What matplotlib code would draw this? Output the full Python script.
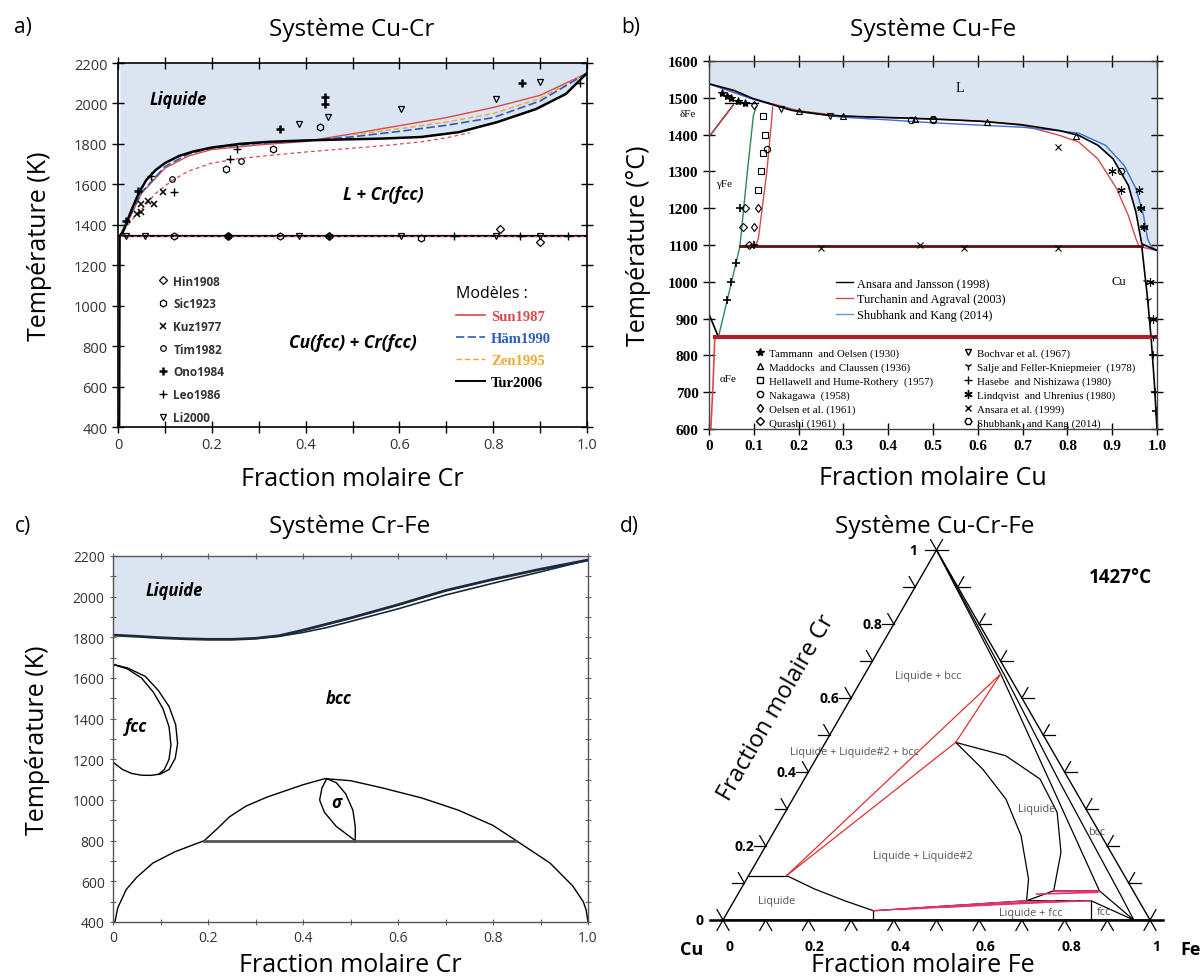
import numpy as np
import matplotlib
matplotlib.use("Agg")
import matplotlib.pyplot as plt
from matplotlib.lines import Line2D

plt.rcParams['font.family'] = ['Open Sans', 'DejaVu Sans']
SERIF = ['Liberation Serif', 'DejaVu Serif']
BLEU = '#dbe5f1'
ROUGE = '#d84a4a'

# ---------------- a) Cu-Cr  (x = fraction Cr, T en K)
a_tur_x = [0.004, 0.01, 0.02, 0.03, 0.045, 0.06, 0.08, 0.1, 0.13, 0.16, 0.2, 0.26,
           0.32, 0.40, 0.48, 0.56, 0.646, 0.727, 0.809, 0.891, 0.955, 1.0]
a_tur_T = [1345, 1362, 1420, 1480, 1560, 1620, 1670, 1705, 1740, 1762, 1782, 1800,
           1810, 1817, 1822, 1826, 1834, 1858, 1908, 1972, 2047, 2150]
a_sun_x = [0.004, 0.02, 0.05, 0.1, 0.15, 0.2, 0.3, 0.4, 0.5, 0.6, 0.7, 0.8, 0.9, 1.0]
a_sun_T = [1345, 1410, 1555, 1680, 1740, 1772, 1795, 1812, 1850, 1890, 1930, 1980, 2040, 2150]
a_ham_x = [0.004, 0.02, 0.05, 0.1, 0.15, 0.2, 0.3, 0.4, 0.5, 0.6, 0.7, 0.8, 0.9, 1.0]
a_ham_T = [1345, 1415, 1560, 1688, 1750, 1780, 1803, 1815, 1835, 1862, 1892, 1930, 2012, 2150]
a_zen_x = [0.5, 0.6, 0.7, 0.8, 0.9, 1.0]
a_zen_T = [1845, 1875, 1908, 1950, 2025, 2150]
a_bas_x = [0.004, 0.018, 0.04, 0.058, 0.08, 0.116, 0.15, 0.2, 0.26, 0.32, 0.4, 0.48, 0.56,
           0.646, 0.7, 0.75]
a_bas_T = [1345, 1390, 1455, 1494, 1555, 1620, 1665, 1705, 1728, 1742, 1760, 1775, 1790,
           1810, 1830, 1855]
a_eut_x = [0.004, 1.0]
a_eut_T = [1345, 1345]
a_solv_x = [0.003, 0.004]
a_solv_T = [400, 1345]

hin_x = [0.815, 0.90]
hin_T = [1379, 1313]
sic_x = [0.23, 0.33, 0.43, 0.12, 0.234, 0.345, 0.45, 0.645]
sic_T = [1676, 1775, 1882, 1345, 1345, 1345, 1345, 1335]
kuz_x = [0.049, 0.064, 0.076, 0.096, 0.04, 0.05]
kuz_T = [1503, 1520, 1503, 1561, 1453, 1462]
tim_x = [0.262, 0.116, 0.234]
tim_T = [1717, 1626, 1345]
ono_x = [0.442, 0.442, 0.345, 0.862, 0.042, 0.018, 0.45, 0.235]
ono_T = [1997, 2030, 1874, 2103, 1569, 1418, 1345, 1345]
leo_x = [0.985, 0.12, 0.238, 0.254, 0.716, 0.858, 0.96, 0.07]
leo_T = [2103, 1561, 1725, 1775, 1345, 1345, 1345, 1640]
li_x = [0.385, 0.447, 0.604, 0.805, 0.899, 0.017, 0.058, 0.385, 0.604, 0.805, 0.899]
li_T = [1898, 1932, 1973, 2022, 2104, 1345, 1345, 1345, 1345, 1345, 1345]

# ---------------- b) Cu-Fe  (x = fraction Cu, T en °C)
b_liq_x = [0, 0.056, 0.098, 0.184, 0.269, 0.355, 0.44, 0.526, 0.611, 0.697, 0.782, 0.825,
           0.868, 0.902, 0.936, 0.953, 0.966, 1.0]
b_liq_T = [1538, 1520, 1498, 1466, 1452, 1448, 1445, 1441, 1436, 1427, 1411, 1398,
           1371, 1334, 1262, 1189, 1103, 1085]
b_blue_x = [0, 0.1, 0.2, 0.3, 0.4, 0.5, 0.6, 0.7, 0.782, 0.825, 0.885, 0.927, 0.953, 0.97,
            0.979, 0.987, 1.0]
b_blue_T = [1538, 1495, 1462, 1447, 1440, 1432, 1426, 1420, 1410, 1404, 1371, 1316, 1253,
            1180, 1117, 1096, 1085]
b_red_x = [0, 0.1, 0.2, 0.3, 0.4, 0.5, 0.6, 0.7, 0.782, 0.825, 0.868, 0.91, 0.936, 0.953,
           0.96, 1.0]
b_red_T = [1538, 1497, 1465, 1450, 1446, 1442, 1437, 1425, 1398, 1380, 1334, 1253, 1180,
           1117, 1096, 1085]
b_g1_x = [0.021, 0.043, 0.069, 0.084, 0.099, 0.105]
b_g1_T = [850, 962, 1096, 1280, 1451, 1475]
b_g2_x = [0.069, 0.103, 0.11, 0.129, 0.14, 0.142]
b_g2_T = [1096, 1098, 1116, 1298, 1442, 1475]
b_d_x = [0, 0.054]
b_d_T = [1394, 1480]
b_per_x = [0.035, 0.11]
b_per_T = [1487, 1487]
b_a1_x = [0, 0.021]
b_a1_T = [912, 850]
b_a2_x = [0.013, 0.009, 0.004]
b_a2_T = [850, 720, 600]
b_cu_x = [0.966, 0.979, 0.987, 0.994, 1.0]
b_cu_T = [1096, 954, 845, 727, 600]
b_h1_x = [0.069, 0.966]
b_h1_T = [1096, 1096]
b_h2_x = [0.013, 1.0]
b_h2_T = [850, 850]

tam_x = [0.03, 0.05, 0.065, 0.08, 0.04]
tam_T = [1512, 1500, 1492, 1485, 1505]
mad_x = [0.2, 0.3, 0.46, 0.62, 0.82]
mad_T = [1465, 1450, 1443, 1433, 1395]
hel_x = [0.12, 0.125, 0.12, 0.115, 0.11]
hel_T = [1450, 1400, 1350, 1300, 1250]
nak_x = [0.45, 0.5, 0.13]
nak_T = [1440, 1440, 1360]
oel_x = [0.1, 0.11, 0.1]
oel_T = [1480, 1200, 1150]
qur_x = [0.09, 0.08, 0.075]
qur_T = [1100, 1200, 1150]
boc_x = [0.16, 0.27]
boc_T = [1470, 1450]
sal_x = [0.975, 0.98, 0.985, 0.99]
sal_T = [1000, 950, 900, 850]
has_x = [0.07, 0.06, 0.05, 0.04, 0.1, 0.99, 0.995, 0.998, 0.97, 0.965]
has_T = [1200, 1050, 1000, 950, 1100, 800, 700, 650, 1150, 1200]
lin_x = [0.9, 0.92, 0.96, 0.965, 0.97, 0.985, 0.99]
lin_T = [1300, 1250, 1250, 1200, 1150, 1000, 900]
ans_x = [0.25, 0.47, 0.57, 0.78, 0.78]
ans_T = [1093, 1100, 1093, 1093, 1365]
shu_x = [0.5, 0.92]
shu_T = [1443, 1300]

# ---------------- c) Cr-Fe  (x = fraction Cr, T en K)
c_liq_x = [0, 0.05, 0.1, 0.15, 0.2, 0.25, 0.3, 0.35, 0.4, 0.45, 0.5, 0.6, 0.7, 0.8, 0.9, 1.0]
c_liq_T = [1811, 1805, 1798, 1793, 1790, 1790, 1795, 1808, 1835, 1865, 1895, 1960, 2030,
           2085, 2135, 2180]
c_sol_x = [0.3, 0.35, 0.4, 0.45, 0.5, 0.6, 0.7, 0.8, 0.9, 1.0]
c_sol_T = [1795, 1805, 1824, 1848, 1878, 1940, 2008, 2066, 2122, 2180]
c_go_x = [0, 0.03, 0.068, 0.095, 0.118, 0.132, 0.136, 0.131, 0.118, 0.1, 0.08, 0.06, 0.04, 0.02, 0]
c_go_T = [1667, 1650, 1608, 1540, 1460, 1370, 1277, 1205, 1150, 1128, 1121, 1122, 1130, 1150, 1186]
c_gi_x = [0, 0.03, 0.06, 0.085, 0.105, 0.118, 0.122, 0.118, 0.108, 0.096]
c_gi_T = [1667, 1645, 1600, 1530, 1450, 1360, 1270, 1200, 1150, 1126]
c_dome_x = [0.192, 0.22, 0.245, 0.28, 0.325, 0.4, 0.446, 0.5, 0.566, 0.65, 0.727, 0.8, 0.849]
c_dome_T = [800, 860, 917, 970, 1015, 1075, 1105, 1095, 1060, 1010, 950, 875, 800]
c_sg_x = [0.45, 0.44, 0.435, 0.445, 0.47, 0.51]
c_sg_T = [1105, 1060, 1000, 940, 870, 800]
c_sd_x = [0.45, 0.47, 0.49, 0.505, 0.51, 0.51]
c_sd_T = [1105, 1085, 1030, 950, 870, 800]
c_h_x = [0.192, 0.849]
c_h_T = [800, 800]
c_mg_x = [0.004, 0.01, 0.028, 0.05, 0.084, 0.13, 0.192]
c_mg_T = [400, 470, 560, 620, 690, 745, 800]
c_md_x = [0.849, 0.92, 0.968, 0.99, 0.996, 1.0]
c_md_T = [800, 690, 577, 500, 460, 400]

# ---------------- d) Cu-Cr-Fe à 1427 °C  (fractions Fe, Cr)
d_liq_fe = [0.0, 0.089]
d_liq_cr = [0.12, 0.12]
d_cb_fe = [0.089, 0.172, 0.259, 0.34, 0.3525]
d_cb_cr = [0.12, 0.084, 0.052, 0.025, 0.0]
d_tri_fe = [0.089, 0.318, 0.305, 0.089]
d_tri_cr = [0.12, 0.665, 0.48, 0.12]
d_lf_fe = [0.34, 0.685, 0.836]
d_lf_cr = [0.025, 0.052, 0.052]
d_red1_fe = [0.34, 0.40, 0.50, 0.60]
d_red1_cr = [0.025, 0.028, 0.034, 0.042]
d_red2_fe = [0.685, 0.75, 0.80, 0.836]
d_red2_cr = [0.052, 0.052, 0.052, 0.052]
d_red3_fe = [0.735, 0.70]
d_red3_cr = [0.079, 0.07]
d_red4_fe = [0.842, 0.84]
d_red4_cr = [0.079, 0.075]
d_fccv_fe = [0.836, 0.862]
d_fccv_cr = [0.052, 0.0]
d_fcc_fe = [0.836, 0.962]
d_fcc_cr = [0.052, 0.0]
d_bcc_fe = [0.0, 0.318, 0.582, 0.842, 0.962]
d_bcc_cr = [1.0, 0.665, 0.37, 0.079, 0.0]
d_bcc2_fe = [0.0, 0.33, 0.6, 0.9, 0.962]
d_bcc2_cr = [1.0, 0.66, 0.375, 0.065, 0.0]
d_lg_fe = [0.305, 0.404, 0.499, 0.584, 0.66, 0.685]
d_lg_cr = [0.48, 0.408, 0.327, 0.228, 0.111, 0.052]
d_ld_fe = [0.305, 0.44, 0.552, 0.637, 0.70, 0.735, 0.842]
d_ld_cr = [0.48, 0.444, 0.381, 0.291, 0.183, 0.079, 0.079]
d_lj_fe = [0.685, 0.735]
d_lj_cr = [0.052, 0.079]

fig = plt.figure(figsize=(12, 9.79), dpi=100)


def px_axes(x0, y0, x1, y1):
    return fig.add_axes([x0 / 1200, 1 - y1 / 979, (x1 - x0) / 1200, (y1 - y0) / 979])


def fmt(v):
    return '0' if v == 0 else ('%.1f' % v)


# ================= a)
ax = px_axes(118, 64, 587, 428)
ax.fill_between(a_tur_x, a_tur_T, 2200, color=BLEU, lw=0)
ax.plot(a_bas_x, a_bas_T, color=ROUGE, lw=0.9, ls=(0, (3, 2.5)))
ax.plot(a_sun_x, a_sun_T, color=ROUGE, lw=1.0)
ax.plot(a_zen_x, a_zen_T, color='#f0a830', lw=1.0, ls=(0, (4, 2)))
ax.plot(a_ham_x, a_ham_T, color='#2a5cc0', lw=1.2, ls=(0, (5, 2)))
ax.plot(a_tur_x, a_tur_T, color='k', lw=1.8)
ax.plot(a_eut_x, a_eut_T, color='k', lw=1.6)
ax.plot(a_eut_x, a_eut_T, color=ROUGE, lw=0.8, ls=(0, (3, 3)))
ax.plot(a_solv_x, a_solv_T, color='k', lw=1.4)

mk_a = [
    (hin_x, hin_T, 'Hin1908', dict(marker='D', ms=4.5, mfc='none', mew=0.9)),
    (sic_x, sic_T, 'Sic1923', dict(marker='h', ms=5, mfc='none', mew=0.9)),
    (kuz_x, kuz_T, 'Kuz1977', dict(marker='x', ms=4.5, mew=1.1)),
    (tim_x, tim_T, 'Tim1982', dict(marker='o', ms=4, mfc='none', mew=0.9)),
    (ono_x, ono_T, 'Ono1984', dict(marker='+', ms=6, mew=1.8)),
    (leo_x, leo_T, 'Leo1986', dict(marker='+', ms=6, mew=1.0)),
    (li_x, li_T, 'Li2000', dict(marker='v', ms=5, mfc='none', mew=0.9)),
]
hd = []
for xs, ts, lab, kw in mk_a:
    ax.plot(xs, ts, ls='none', color='k', **kw)
    hd.append(Line2D([], [], ls='none', color='k', label=lab, **kw))
leg1 = ax.legend(handles=hd, loc='upper left', bbox_to_anchor=(0.07, 0.435), frameon=False,
                 prop=dict(size=8.5, weight='bold'), labelspacing=0.82, handlelength=1.0,
                 handletextpad=0.4, borderpad=0)
for t in leg1.get_texts():
    t.set_color('#333333')
ax.add_artist(leg1)
hm = [Line2D([], [], color=ROUGE, lw=1.2, label='Sun1987'),
      Line2D([], [], color='#2a5cc0', lw=1.2, ls=(0, (5, 2)), label='Häm1990'),
      Line2D([], [], color='#f0a830', lw=1.0, ls=(0, (4, 2)), label='Zen1995'),
      Line2D([], [], color='k', lw=1.4, label='Tur2006')]
ax.legend(handles=hm, loc='upper left', bbox_to_anchor=(0.705, 0.41), frameon=False,
          prop=dict(family=SERIF, size=10.5, weight='bold'), labelspacing=0.6,
          handlelength=2.0, handletextpad=0.4, borderpad=0, title='Modèles :',
          title_fontproperties=dict(size=11.5), alignment='left', labelcolor='linecolor')
ax.text(0.128, 2020, 'Liquide', fontsize=12, fontweight='bold', style='italic', ha='center', va='center')
ax.text(0.565, 1550, 'L + Cr(fcc)', fontsize=12.5, fontweight='bold', style='italic', ha='center', va='center')
ax.text(0.50, 820, 'Cu(fcc) + Cr(fcc)', fontsize=12.5, fontweight='bold', style='italic', ha='center', va='center')
ax.set_xlim(0, 1)
ax.set_ylim(400, 2200)
ax.set_xticks(np.arange(0, 1.01, 0.2))
ax.set_xticklabels([fmt(v) for v in np.arange(0, 1.01, 0.2)])
ax.set_xticks(np.arange(0, 1.01, 0.1), minor=True)
ax.set_yticks(np.arange(400, 2201, 200))
ax.tick_params(which='both', direction='inout', length=8, width=1, top=True, right=True,
               labelsize=10.5, labelcolor='#333333')
for s in ax.spines.values():
    s.set_linewidth(1.2)
ax.set_ylabel('Température (K)', fontsize=18, labelpad=16)
ax.set_xlabel('Fraction molaire Cr', fontsize=18, labelpad=10)

# ================= b)
bx = px_axes(709, 62, 1157, 430)
bx.fill_between(b_liq_x, b_liq_T, 1600, color=BLEU, lw=0)
bx.plot(b_red_x, b_red_T, color=ROUGE, lw=1.0)
bx.plot(b_blue_x, b_blue_T, color='#3a6fd8', lw=1.0)
bx.plot(b_liq_x, b_liq_T, color='k', lw=1.2)
bx.plot(b_g1_x, b_g1_T, color='#2a8a50', lw=1.0)
bx.plot(b_g2_x, b_g2_T, color=ROUGE, lw=1.0)
bx.plot(b_d_x, b_d_T, color='k', lw=1.0)
bx.plot(b_d_x, b_d_T, color=ROUGE, lw=0.8)
bx.plot(b_per_x, b_per_T, color='k', lw=1.0)
bx.plot(b_a1_x, b_a1_T, color='k', lw=1.2)
bx.plot(b_a2_x, b_a2_T, color=ROUGE, lw=1.2)
bx.plot(b_cu_x, b_cu_T, color='k', lw=1.2)
bx.plot(b_h1_x, b_h1_T, color='#5a1010', lw=2.0)
bx.plot(b_h2_x, b_h2_T, color='#b0202a', lw=3.0)

mk_b1 = [
    (tam_x, tam_T, 'Tammann  and Oelsen (1930)', dict(marker='*', ms=6)),
    (mad_x, mad_T, 'Maddocks  and Claussen (1936)', dict(marker='^', ms=4.5, mfc='none')),
    (hel_x, hel_T, 'Hellawell and Hume-Rothery  (1957)', dict(marker='s', ms=4.5, mfc='none')),
    (nak_x, nak_T, 'Nakagawa  (1958)', dict(marker='o', ms=4.5, mfc='none')),
    (oel_x, oel_T, 'Oelsen et al. (1961)', dict(marker='d', ms=4.5, mfc='none')),
    (qur_x, qur_T, 'Qurashi (1961)', dict(marker='D', ms=4, mfc='none')),
]
mk_b2 = [
    (boc_x, boc_T, 'Bochvar et al. (1967)', dict(marker='v', ms=4.5, mfc='none')),
    (sal_x, sal_T, 'Salje and Feller-Kniepmeier  (1978)', dict(marker='1', ms=6)),
    (has_x, has_T, 'Hasebe  and Nishizawa (1980)', dict(marker='+', ms=6, mew=1.2)),
    (lin_x, lin_T, 'Lindqvist  and Uhrenius (1980)', dict(marker=(6, 2, 0), ms=6)),
    (ans_x, ans_T, 'Ansara et al. (1999)', dict(marker='x', ms=5)),
    (shu_x, shu_T, 'Shubhank  and Kang (2014)', dict(marker='H', ms=5, mfc='none')),
]
legs = []
for grp in (mk_b1, mk_b2):
    hh = []
    for xs, ts, lab, kw in grp:
        bx.plot(xs, ts, ls='none', color='k', mew=kw.pop('mew', 0.8), **kw)
        hh.append(Line2D([], [], ls='none', color='k', label=lab, **kw))
    legs.append(hh)
lb1 = bx.legend(handles=legs[0], loc='upper left', bbox_to_anchor=(0.09, 0.235), frameon=False,
                prop=dict(family=SERIF, size=7.8), labelspacing=0.38, handlelength=1.0,
                handletextpad=0.3, borderpad=0)
bx.add_artist(lb1)
lb2 = bx.legend(handles=legs[1], loc='upper left', bbox_to_anchor=(0.555, 0.235), frameon=False,
                prop=dict(family=SERIF, size=7.8), labelspacing=0.38, handlelength=1.0,
                handletextpad=0.3, borderpad=0)
bx.add_artist(lb2)
hb = [Line2D([], [], color='k', lw=1, label='Ansara and Jansson (1998)'),
      Line2D([], [], color=ROUGE, lw=1, label='Turchanin and Agraval (2003)'),
      Line2D([], [], color='#5aa0d8', lw=1, label='Shubhank and Kang (2014)')]
bx.legend(handles=hb, loc='upper left', bbox_to_anchor=(0.27, 0.43), frameon=False,
          prop=dict(family=SERIF, size=8.8), labelspacing=0.35, handlelength=1.4,
          handletextpad=0.3, borderpad=0)
bx.text(0.56, 1527, 'L', fontsize=10, family=SERIF, ha='center', va='center')
bx.text(-0.047, 1457, 'δFe', fontsize=8, family=SERIF, ha='center', va='center')
bx.text(0.034, 1266, 'γFe', fontsize=8, family=SERIF, ha='center', va='center')
bx.text(0.043, 736, 'αFe', fontsize=8, family=SERIF, ha='center', va='center')
bx.text(0.915, 1003, 'Cu', fontsize=9, family=SERIF, ha='center', va='center')
bx.set_xlim(0, 1)
bx.set_ylim(600, 1600)
bx.set_xticks(np.arange(0, 1.01, 0.1))
bx.set_xticklabels([fmt(v) for v in np.arange(0, 1.01, 0.1)])
bx.set_yticks(np.arange(600, 1601, 100))
bx.tick_params(direction='inout', length=8, width=1, top=True, right=True, labelsize=11)
for t in bx.get_xticklabels() + bx.get_yticklabels():
    t.set_fontfamily(SERIF)
    t.set_fontweight('bold')
for s in bx.spines.values():
    s.set_linewidth(1.0)
    s.set_color('#444444')
bx.set_ylabel('Température (°C)', fontsize=18, labelpad=12)
bx.set_xlabel('Fraction molaire Cu', fontsize=18, labelpad=9)

# ================= c)
cx = px_axes(113, 557, 588, 923)
cx.fill_between(c_liq_x, c_liq_T, 2200, color=BLEU, lw=0)
cx.plot(c_liq_x, c_liq_T, color='#1a2a3a', lw=2.0)
cx.plot(c_sol_x, c_sol_T, color='#1a2a3a', lw=1.2)
for xs, ts in [(c_go_x, c_go_T), (c_gi_x, c_gi_T), (c_dome_x, c_dome_T), (c_sg_x, c_sg_T),
               (c_sd_x, c_sd_T), (c_mg_x, c_mg_T), (c_md_x, c_md_T)]:
    cx.plot(xs, ts, color='k', lw=1.0)
cx.plot(c_h_x, c_h_T, color='#555555', lw=2.0)
cx.text(0.128, 2032, 'Liquide', fontsize=12, fontweight='bold', style='italic', ha='center', va='center')
cx.text(0.475, 1504, 'bcc', fontsize=12, fontweight='bold', style='italic', ha='center', va='center')
cx.text(0.048, 1365, 'fcc', fontsize=12, fontweight='bold', style='italic', ha='center', va='center')
cx.text(0.47, 991, 'σ', fontsize=12, fontweight='bold', style='italic', ha='center', va='center')
cx.set_xlim(0, 1)
cx.set_ylim(400, 2200)
cx.set_xticks(np.arange(0, 1.01, 0.2))
cx.set_xticklabels([fmt(v) for v in np.arange(0, 1.01, 0.2)])
cx.set_xticks(np.arange(0, 1.01, 0.1), minor=True)
cx.set_yticks(np.arange(400, 2201, 200))
cx.set_yticks(np.arange(400, 2201, 100), minor=True)
cx.tick_params(which='both', direction='inout', length=5, width=0.8, top=True, right=True,
               labelsize=10, labelcolor='#333333', color='#666666')
for s in cx.spines.values():
    s.set_linewidth(1.0)
    s.set_color('#555555')
cx.set_ylabel('Température (K)', fontsize=18, labelpad=16)
cx.set_xlabel('Fraction molaire Cr', fontsize=18, labelpad=5)

# ================= d) ternaire
h = np.sqrt(3) / 2


def tern(fe, cr):
    fe = np.asarray(fe, float)
    cr = np.asarray(cr, float)
    return fe + 0.5 * cr, h * cr


dx = px_axes(723, 551, 1150, 921)
dx.set_xlim(0, 1)
dx.set_ylim(0, h)
dx.axis('off')
dx.plot(*tern([0, 1, 0, 0], [0, 0, 1, 0]), color='k', lw=1.0, clip_on=False)
dx.plot([-0.03, 1.03], [0, 0], color='k', lw=1.8, clip_on=False)
L = 0.028
for t in np.linspace(0, 1, 11):
    segs = [((t, 0), (t - 0.5 * L, -h * L)), ((t, 0), (t + 0.5 * L, -h * L)),
            ((0.5 * t, h * t), (0.5 * t - L, h * t)), ((0.5 * t, h * t), (0.5 * t - 0.5 * L, h * t + h * L)),
            ((1 - 0.5 * t, h * t), (1 - 0.5 * t + L, h * t)), ((1 - 0.5 * t, h * t), (1 - 0.5 * t + 0.5 * L, h * t + h * L))]
    for p, q in segs:
        dx.plot([p[0], q[0]], [p[1], q[1]], color='k', lw=0.9, clip_on=False)

for fe, cr in [(d_liq_fe, d_liq_cr), (d_cb_fe, d_cb_cr), (d_lf_fe, d_lf_cr), (d_fccv_fe, d_fccv_cr),
               (d_fcc_fe, d_fcc_cr), (d_bcc_fe, d_bcc_cr), (d_bcc2_fe, d_bcc2_cr),
               (d_lg_fe, d_lg_cr), (d_ld_fe, d_ld_cr), (d_lj_fe, d_lj_cr)]:
    dx.plot(*tern(fe, cr), color='k', lw=0.9)
dx.plot(*tern(d_tri_fe, d_tri_cr), color='#e03030', lw=0.9)
for i in range(len(d_red1_fe)):
    dx.plot(*tern([d_red1_fe[i], d_red2_fe[i]], [d_red1_cr[i], d_red2_cr[i]]), color='#e8306a', lw=1.0)
for i in range(len(d_red3_fe)):
    dx.plot(*tern([d_red3_fe[i], d_red4_fe[i]], [d_red3_cr[i], d_red4_cr[i]]), color='#e8306a', lw=1.2)

gris = '#555555'
for s, x, y in [('Liquide + bcc', 0.481, 0.572), ('Liquide + Liquide#2 + bcc', 0.308, 0.394),
                ('Liquide + Liquide#2', 0.469, 0.152), ('Liquide', 0.734, 0.262),
                ('bcc', 0.875, 0.206), ('Liquide', 0.126, 0.045),
                ('Liquide + fcc', 0.72, 0.018), ('fcc', 0.893, 0.019)]:
    dx.text(x, y, s, fontsize=7.8, color=gris, ha='center', va='center')
dx.text(0.93, 0.803, '1427°C', fontsize=13.5, fontweight='bold', ha='center', va='center')
tl = np.arange(0, 1.01, 0.2)
for v in tl:
    lab = '%g' % round(v, 1)
    dx.text(v + 0.015, -0.062, lab, fontsize=10, fontweight='bold', ha='center', va='center', clip_on=False)
    off = 0.045 if v in (0, 1) else 0.027
    dx.text(0.5 * v - off, h * v, lab, fontsize=10, fontweight='bold', ha='right', va='center', clip_on=False)
dx.text(-0.073, -0.068, 'Cu', fontsize=13, fontweight='bold', ha='center', va='center')
dx.text(1.096, -0.068, 'Fe', fontsize=13, fontweight='bold', ha='center', va='center')
dx.text(0.468, -0.104, 'Fraction molaire Fe', fontsize=18, ha='center', va='center')
dx.text(0.124, 0.499, 'Fraction molaire Cr', fontsize=17, ha='center', va='center', rotation=60)

# titres
for s, x, y in [('a)', 23, 28), ('b)', 631, 28), ('c)', 23, 527), ('d)', 629, 527)]:
    fig.text(x / 1200, 1 - y / 979, s, fontsize=15, ha='center', va='center')
for s, x, y in [('Système Cu-Cr', 352, 30), ('Système Cu-Fe', 933, 30),
                ('Système Cr-Fe', 350, 527), ('Système Cu-Cr-Fe', 935, 527)]:
    fig.text(x / 1200, 1 - y / 979, s, fontsize=17.5, ha='center', va='center')

fig.savefig('out.png', dpi=100)
